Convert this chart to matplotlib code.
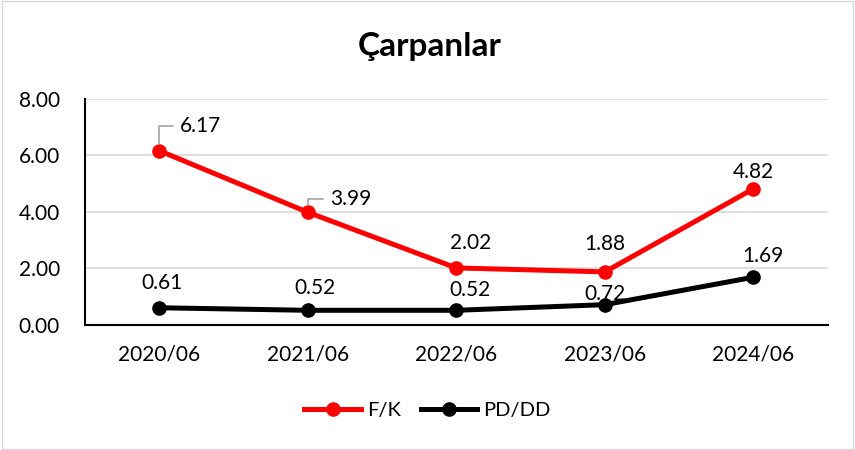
import matplotlib
matplotlib.use("Agg")
import matplotlib.pyplot as plt
from matplotlib.patches import Rectangle

plt.rcParams['font.family'] = ['Lato', 'DejaVu Sans']

periods = ["2020/06", "2021/06", "2022/06", "2023/06", "2024/06"]
fk = [6.17, 3.99, 2.02, 1.88, 4.82]
pddd = [0.61, 0.52, 0.52, 0.72, 1.69]

# label offsets in pixels (dx, dy) relative to each point
fk_offsets = [(21, 25), (22, 13), (14, 25), (0, 28), (0, 17)]
pd_offsets = [(3, 25), (7, 22), (14, 20), (0, 11), (10, 21)]
leader = [True, True, False, False, False]

fig = plt.figure(figsize=(8.55, 4.5), dpi=100)
fig.patches.append(Rectangle((0.002, 0.003), 0.996, 0.994, transform=fig.transFigure,
                             fill=False, edgecolor="#d9d9d9", linewidth=1))
ax = fig.add_axes([0.0994, 0.2778, 0.8686, 0.5022])

x = list(range(len(periods)))
ax.plot(x, fk, color="#ff0000", lw=3.6, marker="o", ms=9.5, label="F/K", zorder=3)
ax.plot(x, pddd, color="#000000", lw=3.6, marker="o", ms=9.5, label="PD/DD", zorder=3)

fs = 15
for i, v in enumerate(fk):
    dx, dy = fk_offsets[i]
    if leader[i]:
        ax.annotate(f"{v:.2f}", (i, v), xytext=(dx, dy), textcoords="offset pixels",
                    ha="left", va="center", fontsize=fs,
                    arrowprops=dict(arrowstyle="-", color="#a6a6a6", lw=1.2,
                                    shrinkA=3, shrinkB=5,
                                    connectionstyle="angle,angleA=180,angleB=90,rad=0"))
    else:
        ax.annotate(f"{v:.2f}", (i, v), xytext=(dx, dy), textcoords="offset pixels",
                    ha="center", va="center", fontsize=fs)
for i, v in enumerate(pddd):
    dx, dy = pd_offsets[i]
    ax.annotate(f"{v:.2f}", (i, v), xytext=(dx, dy), textcoords="offset pixels",
                ha="center", va="center", fontsize=fs)

ax.set_xlim(-0.5, len(periods) - 0.5)
ax.set_ylim(0, 8)
ax.set_yticks([0, 2, 4, 6, 8])
ax.set_yticklabels([f"{t:.2f}" for t in [0, 2, 4, 6, 8]])
ax.set_xticks(x)
ax.set_xticklabels(periods)
ax.tick_params(axis="both", length=0, labelsize=fs)
ax.tick_params(axis="x", pad=14)
ax.tick_params(axis="y", pad=18)
ax.grid(axis="y", color="#d9d9d9", lw=1.2)
ax.set_axisbelow(True)
for s in ["top", "right"]:
    ax.spines[s].set_visible(False)
ax.spines["left"].set_linewidth(1.5)
ax.spines["bottom"].set_linewidth(1.5)

fig.text(0.503, 0.897, "Çarpanlar", ha="center", va="center", fontsize=24, fontweight="bold")
fig.legend(loc="center", bbox_to_anchor=(0.5, 0.088), ncol=2, frameon=False,
           fontsize=14.5, handlelength=2.8, columnspacing=1.0, handletextpad=0.3)

fig.savefig("out.png", dpi=100)
